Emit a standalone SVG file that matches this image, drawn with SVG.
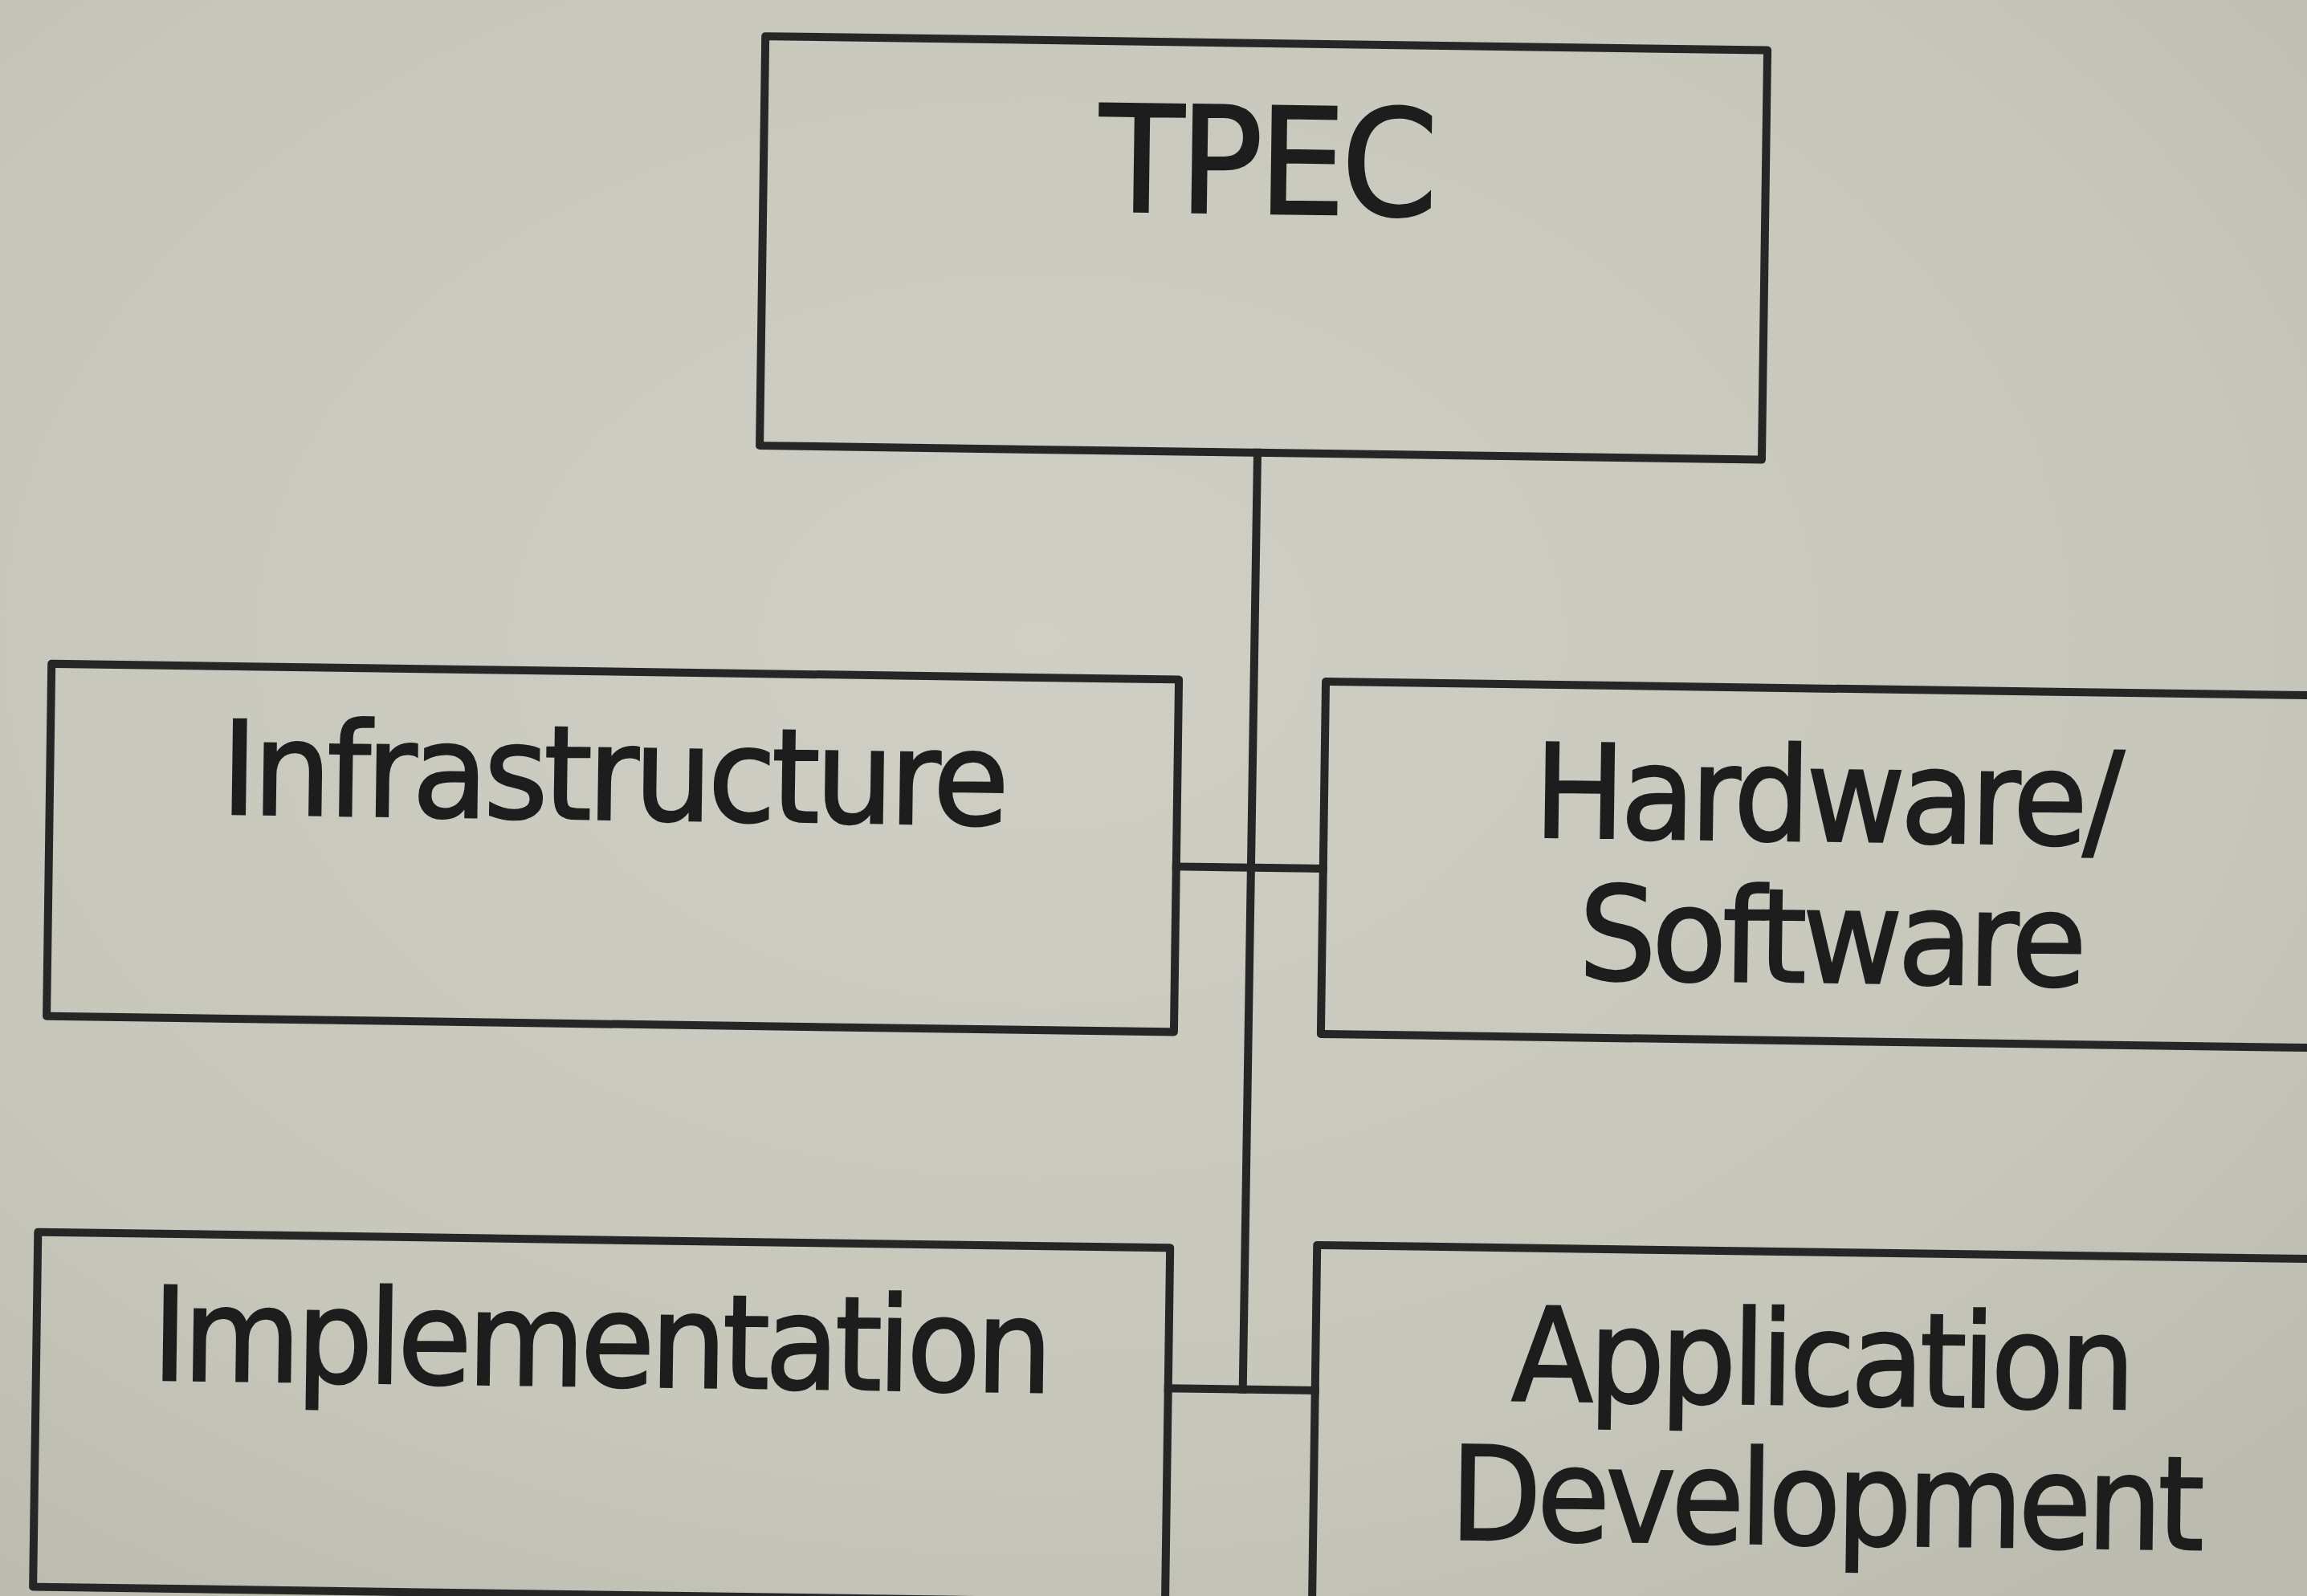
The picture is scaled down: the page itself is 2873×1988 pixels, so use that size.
<svg xmlns="http://www.w3.org/2000/svg" width="2873" height="1988" viewBox="0 0 2873 1988">
  <defs>
    <radialGradient id="paper" cx="45%" cy="40%" r="75%">
      <stop offset="0" stop-color="#cfcfc5"/>
      <stop offset="0.7" stop-color="#c7c6bb"/>
      <stop offset="1" stop-color="#bcbbb0"/>
    </radialGradient>
    <style>
      .box { fill: none; stroke: #262626; stroke-width: 10; stroke-linejoin: round; }
      .conn { fill: none; stroke: #262626; stroke-width: 10; stroke-linecap: square; }
      .lbl { fill: #1d1d1d; stroke: #1d1d1d; stroke-width: 2.5; font-family: 'DejaVu Sans', Verdana, sans-serif; font-size: 162px; letter-spacing: -6px; text-anchor: middle; }
      .title { font-size: 184px; }
    </style>
  </defs>

  <!-- paper background -->
  <rect x="0" y="0" width="2873" height="1988" fill="url(#paper)"/>

  <!-- whole chart sits slightly tilted on the page -->
  <g transform="rotate(0.8 1436 994)">
    <g id="connectors">
      <line class="conn" x1="1560" y1="562" x2="1558" y2="1729"/>
      <line class="conn" x1="1466" y1="1079" x2="1649" y2="1079"/>
      <line class="conn" x1="1465" y1="1729" x2="1648" y2="1729"/>
    </g>

    <g id="tpec">
      <rect class="box" x="940" y="52" width="1248" height="510"/>
      <text class="lbl title" x="1566" y="264" textLength="416" lengthAdjust="spacingAndGlyphs">TPEC</text>
    </g>

    <g id="infrastructure">
      <rect class="box" x="62" y="846" width="1404" height="439"/>
      <text class="lbl" x="763" y="1030" textLength="976" lengthAdjust="spacingAndGlyphs">Infrastructure</text>
    </g>

    <g id="hardware-software">
      <rect class="box" x="1649" y="846" width="1271" height="439"/>
      <text class="lbl" x="2275" y="1036" textLength="729" lengthAdjust="spacingAndGlyphs">Hardware/</text>
      <text class="lbl" x="2282" y="1212" textLength="627" lengthAdjust="spacingAndGlyphs">Software</text>
    </g>

    <g id="implementation">
      <rect class="box" x="55" y="1554" width="1410" height="442"/>
      <text class="lbl" x="757" y="1736" textLength="1116" lengthAdjust="spacingAndGlyphs">Implementation</text>
    </g>

    <g id="application-development">
      <rect class="box" x="1648" y="1548" width="1272" height="460"/>
      <text class="lbl" x="2278" y="1738" textLength="771" lengthAdjust="spacingAndGlyphs">Application</text>
      <text class="lbl" x="2285" y="1912" textLength="934" lengthAdjust="spacingAndGlyphs">Development</text>
    </g>
  </g>
</svg>
